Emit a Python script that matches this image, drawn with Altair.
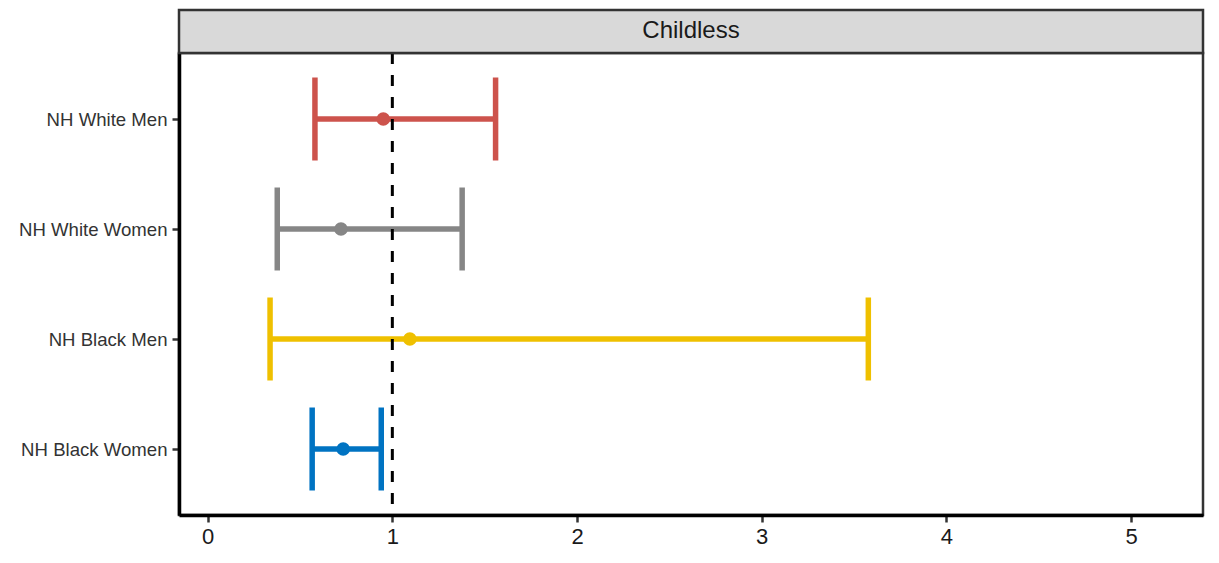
import altair as alt
import pandas as pd

groups = ["NH White Men", "NH White Women", "NH Black Men", "NH Black Women"]
estimate = [0.951, 0.722, 1.095, 0.734]
lower = [0.581, 0.377, 0.338, 0.566]
upper = [1.559, 1.378, 3.577, 0.940]
colors = ["#CD534C", "#868686", "#EFC000", "#0073C2"]
x_ticks = [0, 1, 2, 3, 4, 5]
ref_value = [1]
panel_title = ["Childless"]

W, H = 1024, 462

df = pd.DataFrame({"group": groups, "est": estimate, "lo": lower, "hi": upper})
ref = pd.DataFrame({"x": ref_value})
strip_df = pd.DataFrame({"t": panel_title})

xscale = alt.Scale(domain=[-0.155, 5.389], nice=False, zero=False)
yscale = alt.Scale(type="point", domain=groups, padding=0.6)
cscale = alt.Scale(domain=groups, range=colors)

xaxis = alt.Axis(values=x_ticks, title=None, grid=False, labelFontSize=22, labelColor="#1a1a1a",
                 tickSize=7, labelPadding=4, format="d")
yaxis = alt.Axis(title=None, grid=False, labelFontSize=18.6, labelColor="#333333",
                 tickSize=7, labelPadding=5, minExtent=171)

base = alt.Chart(df)

bars = base.mark_rule(strokeWidth=5.5, opacity=1).encode(
    x=alt.X("lo:Q", scale=xscale, axis=xaxis),
    x2="hi:Q",
    y=alt.Y("group:N", scale=yscale, axis=yaxis, sort=groups),
    color=alt.Color("group:N", scale=cscale, legend=None),
)
cap_lo = base.mark_tick(thickness=5.5, size=83, orient="vertical", opacity=1).encode(
    x=alt.X("lo:Q", scale=xscale),
    y=alt.Y("group:N", scale=yscale, sort=groups),
    color=alt.Color("group:N", scale=cscale, legend=None),
)
cap_hi = base.mark_tick(thickness=5.5, size=83, orient="vertical", opacity=1).encode(
    x=alt.X("hi:Q", scale=xscale),
    y=alt.Y("group:N", scale=yscale, sort=groups),
    color=alt.Color("group:N", scale=cscale, legend=None),
)
pts = base.mark_circle(size=185, opacity=1).encode(
    x=alt.X("est:Q", scale=xscale),
    y=alt.Y("group:N", scale=yscale, sort=groups),
    color=alt.Color("group:N", scale=cscale, legend=None),
)
vline = alt.Chart(ref).mark_rule(color="black", strokeWidth=3, strokeDash=[11, 11]).encode(
    x=alt.X("x:Q", scale=xscale)
)
strip = alt.Chart(strip_df).mark_rect(fill="#D9D9D9", stroke="#333333", strokeWidth=2.5).encode(
    x=alt.value(0), x2=alt.value(W), y=alt.value(-43), y2=alt.value(0)
)
strip_text = alt.Chart(strip_df).mark_text(fontSize=24, color="#1a1a1a", font="Liberation Sans",
                                           baseline="middle", align="center").encode(
    x=alt.value(W / 2), y=alt.value(-22), text="t:N"
)

chart = alt.layer(bars, cap_lo, cap_hi, pts, vline, strip, strip_text).properties(
    width=W, height=H, padding={"left": 0, "top": 0, "right": 5, "bottom": 5}
).configure_view(
    stroke="#333333", strokeWidth=2.5
).configure_axis(
    domainColor="black", domainWidth=3.5, tickColor="#333333", tickWidth=2.5,
    labelFont="Liberation Sans"
)

chart.save("out.html", embed_options={"renderer": "svg", "actions": False})
